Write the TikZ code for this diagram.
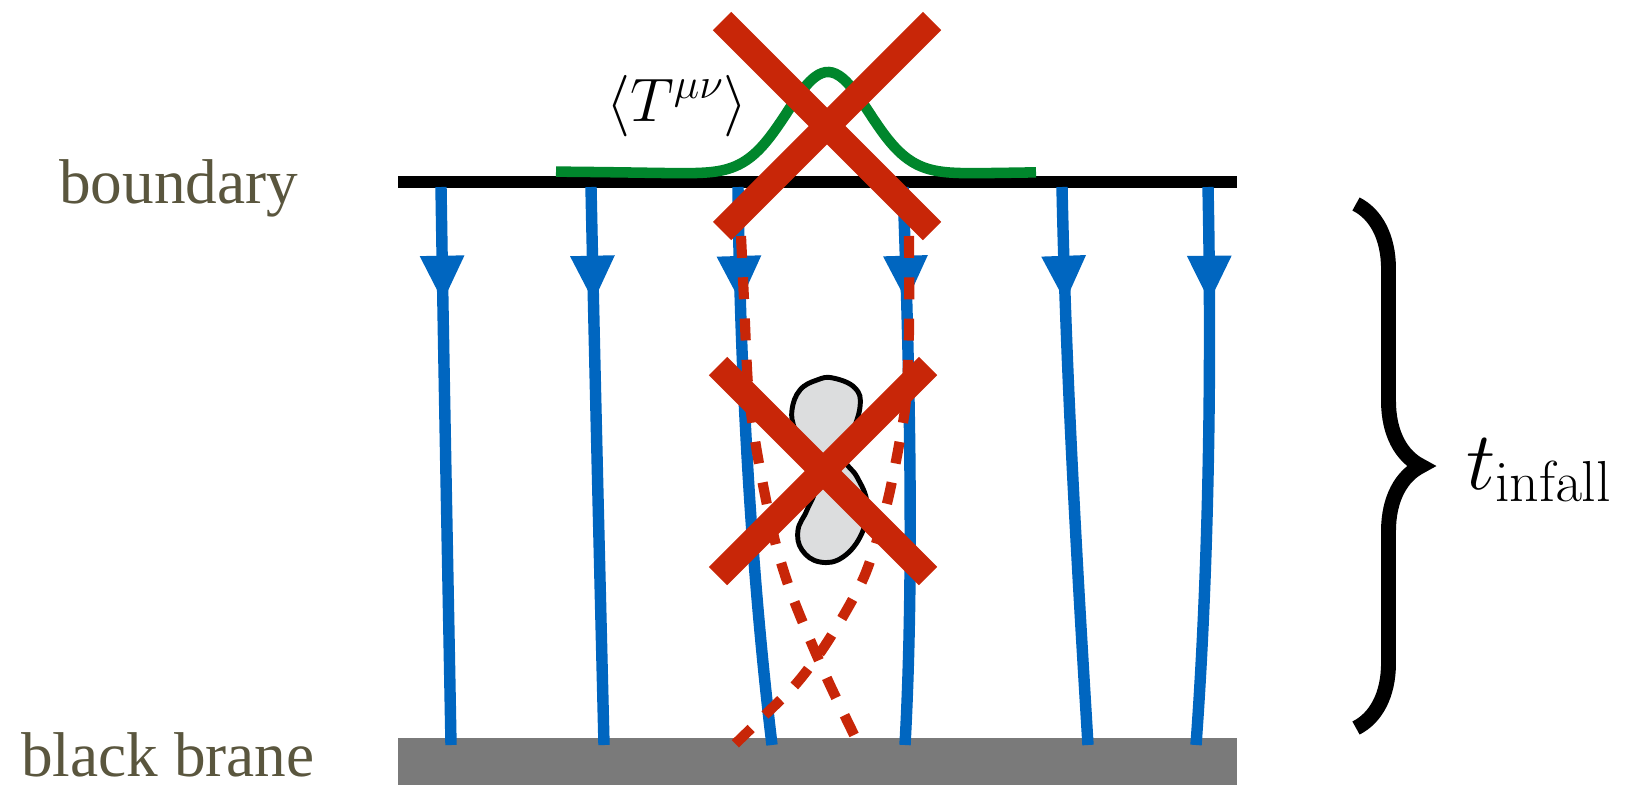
\RequirePackage{fix-cm}
\documentclass[tikz,border=0pt]{standalone}
\usepackage{amsmath}
\usepackage[no-math]{fontspec}
\newfontfamily\labelfont{Liberation Serif}
\usetikzlibrary{arrows.meta,decorations.markings,decorations.pathreplacing}

\definecolor{geoblue}{RGB}{0,102,192}
\definecolor{vetored}{RGB}{200,38,8}
\definecolor{vevgreen}{RGB}{0,134,44}
\definecolor{labelolive}{RGB}{90,86,62}
\definecolor{branegray}{RGB}{122,122,122}
\definecolor{blobgray}{RGB}{220,221,222}

\begin{document}
\begin{tikzpicture}[x=0.02cm, y=-0.02cm,
  geodesic/.style={geoblue, line width=6.5pt,
    postaction={decorate, decoration={markings,
      mark=at position 0.205 with {\arrow{Triangle[width=25.5pt,length=26pt,line width=0pt]}}}}},
  infall/.style={vetored, line width=5.8pt, dash pattern=on 12.5pt off 11pt},
  veto/.style={vetored, line width=14.7pt},
  sidelabel/.style={font=\labelfont\fontsize{36}{40}\selectfont, text=labelolive,
                    anchor=base west, inner sep=0pt, text depth=0pt}
]
\useasboundingbox (0,0) rectangle (1633,785);

% Horizon and boundary
\fill[branegray] (398,738) rectangle (1237,785);
\draw[line width=6.3pt] (398,182) -- (1237,182);

% Infalling geodesics
\foreach \xt/\ca/\cb/\xb in {441/444/448/451, 591/595/600/604, 738/740/752/772,
                             903/910/914/905, 1062/1066/1078/1088, 1208/1212/1208/1196}{
  \draw[geodesic] (\xt,187) .. controls (\ca,380) and (\cb,580) .. (\xb,745);
}

% Would-be paths round the object
\draw[infall] plot[smooth] coordinates {(741,236) (744,300) (748,385) (755,440)
  (765,495) (776,545) (790,590) (808,635) (830,685) (859,745)};
\draw[infall] plot[smooth] coordinates {(909,236) (909,330) (906,400) (899,445)
  (889,495) (878,537) (864,577) (845,613) (822,650) (796,684) (766,714) (733,746)};

% Object in the bulk
\draw[fill=blobgray, line width=2.8pt] plot[smooth cycle, tension=0.7] coordinates {
  (833,378) (855,388) (860,407) (850,440) (845,460) (857,477) (867,503) (862,533)
  (843,557) (820,562) (802,550) (798,530) (807,510) (815,487) (807,457) (795,430)
  (792,410) (800,390) (817,380)};

% Stress tensor bump
\draw[vevgreen, line width=6pt] plot[domain=556:1036, samples=140, smooth]
  (\x, {171+4*exp(-((\x-828)/200)^2) - 103*exp(-min(0.5*((\x-828)/41)^2, 20))});
\node[font=\fontsize{35}{40}\selectfont, anchor=base west, inner sep=0pt] (tmunu)
  at (606,121) {$\langle T^{\mu\nu}\rangle$};

% Crossed out
\foreach \cx/\cy in {827/126, 823/471}{
  \draw[veto] (\cx-105,\cy-105) -- (\cx+105,\cy+105);
  \draw[veto] (\cx+105,\cy-105) -- (\cx-105,\cy+105);
}

% Labels
\node[sidelabel] (bdy) at (59,203) {boundary};
\node[sidelabel] (brane) at (21,776) {black brane};

% Infall time brace
\coordinate (btop) at (1356,204);
\coordinate (bbot) at (1356,728);
\draw[line width=8.5pt, decorate, decoration={brace, amplitude=37pt}] (btop) -- (bbot);
\node[font=\fontsize{47}{54}\selectfont, anchor=base west, inner sep=0pt] (tinf)
  at (1466,489) {$t_{\mathrm{infall}}$};
\end{tikzpicture}
\end{document}
